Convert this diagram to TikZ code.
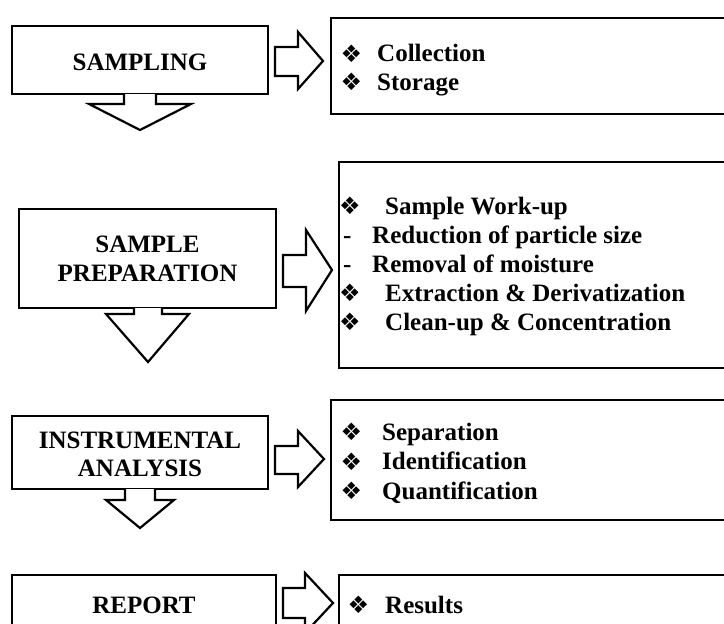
\documentclass[tikz,border=0pt]{standalone}
\usepackage{fontspec}
\setmainfont{Liberation Serif}
\newfontfamily\dv{DejaVu Sans}
\begin{document}
\begin{tikzpicture}[x=1pt,y=-1pt,
  box/.style={draw,line width=2.8pt,rectangle,inner sep=0pt,outer sep=0pt},
  head/.style={font=\fontsize{25}{29}\selectfont\bfseries,inner sep=0pt,anchor=base},
  item/.style={font=\fontsize{25}{29}\selectfont\bfseries,inner sep=0pt,anchor=base west},
  bul/.style={font=\fontsize{24}{24}\selectfont\dv,inner sep=0pt,anchor=center},
  blockarrow/.style={draw,line width=2.2pt,line join=miter,fill=white}]
\useasboundingbox (0,0) rectangle (724,624);
\clip (0,0) rectangle (724,624);

% ---------- row 1 ----------
\node[box,minimum width=256pt,minimum height=68pt] (b1) at (140,60) {};
\node[head] (t1) at (140,70) {SAMPLING};
\node[box,minimum width=440pt,minimum height=96pt] (r1) at (551,66) {};
\node[bul] (u1a) at (351.5,53.5) {❖};
\node[item] (i1a) at (377,61.5) {Collection};
\node[bul] (u1b) at (351.5,82) {❖};
\node[item] (i1b) at (377,90) {Storage};
\draw[blockarrow] (275,47) -- (298,47) -- (298,32) -- (323,61) -- (298,89) -- (298,76) -- (275,76) -- cycle;
\draw[blockarrow] (124,94) -- (124,104) -- (89,104) -- (140,130) -- (191,104) -- (156,104) -- (156,94);

% ---------- row 2 ----------
\node[box,minimum width=257pt,minimum height=99pt] (b2) at (147.5,258.5) {};
\node[head] (t2a) at (147.5,252) {SAMPLE};
\node[head] (t2b) at (147.5,281.5) {PREPARATION};
\node[box,minimum width=420pt,minimum height=206pt] (r2) at (549,265) {};
\node[bul] (u2a) at (350,206) {❖};
\node[item] (i2a) at (385,214) {Sample Work-up};
\node[item] (d2b) at (343,243) {-};
\node[item] (i2b) at (372,243) {Reduction of particle size};
\node[item] (d2c) at (343,272) {-};
\node[item] (i2c) at (372,272) {Removal of moisture};
\node[bul] (u2d) at (350,293) {❖};
\node[item] (i2d) at (385,301) {Extraction \& Derivatization};
\node[bul] (u2e) at (350,322) {❖};
\node[item] (i2e) at (385,330) {Clean-up \& Concentration};
\draw[blockarrow] (283,255) -- (306,255) -- (306,230) -- (332,270) -- (306,311) -- (306,287) -- (283,287) -- cycle;
\draw[blockarrow] (134,308) -- (134,314) -- (106,314) -- (148,362) -- (189,314) -- (162,314) -- (162,308);

% ---------- row 3 ----------
\node[box,minimum width=256pt,minimum height=73pt] (b3) at (140,452.5) {};
\node[head] (t3a) at (140,448.3) {INSTRUMENTAL};
\node[head] (t3b) at (140,476.7) {ANALYSIS};
\node[box,minimum width=440pt,minimum height=120pt] (r3) at (551,460) {};
\node[bul] (u3a) at (351.5,432) {❖};
\node[item] (i3a) at (382,440) {Separation};
\node[bul] (u3b) at (351.5,461.5) {❖};
\node[item] (i3b) at (382,469.5) {Identification};
\node[bul] (u3c) at (351.5,491) {❖};
\node[item] (i3c) at (382,499) {Quantification};
\draw[blockarrow] (275,446) -- (298,446) -- (298,431) -- (324,459) -- (298,487) -- (298,474) -- (275,474) -- cycle;
\draw[blockarrow] (125,489) -- (125,500) -- (106,500) -- (140,528) -- (174,500) -- (155,500) -- (155,489);

% ---------- row 4 ----------
\node[box,minimum width=264pt,minimum height=80pt] (b4) at (144,615) {};
\node[head] (t4) at (144,613) {REPORT};
\node[box,minimum width=420pt,minimum height=80pt] (r4) at (549,615) {};
\node[bul] (u4a) at (358.5,605) {❖};
\node[item] (i4a) at (385,613) {Results};
\draw[blockarrow] (283,588) -- (305,588) -- (305,573) -- (333,603) -- (305,633) -- (305,618) -- (283,618) -- cycle;
\end{tikzpicture}
\end{document}
